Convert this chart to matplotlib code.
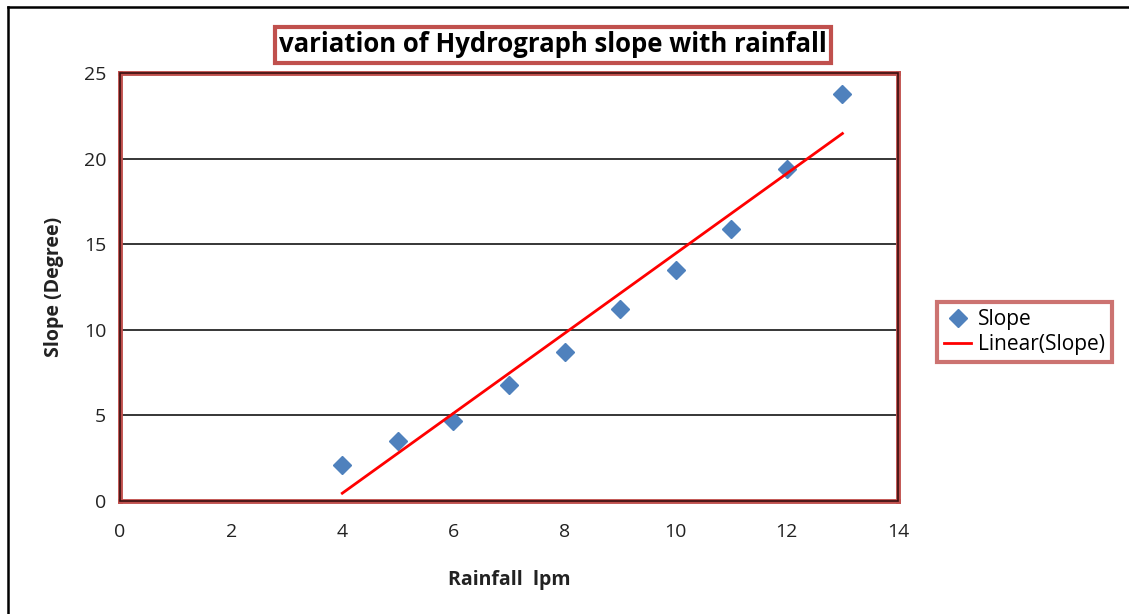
import numpy as np
import matplotlib
matplotlib.use("Agg")
import matplotlib.pyplot as plt
from matplotlib.lines import Line2D
from matplotlib.patches import Rectangle

# Data
rainfall = [4, 5, 6, 7, 8, 9, 10, 11, 12, 13]
slope = [2.1, 3.5, 4.7, 6.8, 8.7, 11.2, 13.5, 15.9, 19.4, 23.8]
x_ticks = [0, 2, 4, 6, 8, 10, 12, 14]
y_ticks = [0, 5, 10, 15, 20, 25]

title = "variation of Hydrograph slope with rainfall"
xlabel = "Rainfall  lpm"
ylabel = "Slope (Degree)"

plt.rcParams['font.family'] = ['Open Sans', 'DejaVu Sans']

fig = plt.figure(figsize=(11.29, 6.14), dpi=100)
W, H = 1129, 614
ax = fig.add_axes([120 / W, 1 - 501 / H, (898 - 120) / W, (501 - 73) / H])

ax.set_xlim(0, 14)
ax.set_ylim(0, 25)
ax.set_xticks(x_ticks)
ax.set_yticks(y_ticks)
ax.tick_params(length=0, labelsize=14, colors='#222222')
ax.tick_params(axis='x', pad=16)
ax.tick_params(axis='y', pad=10)
ax.yaxis.grid(True, color='black', linewidth=1.1)
ax.set_axisbelow(True)

for s in ax.spines.values():
    s.set_color('#c0504d')
    s.set_linewidth(3.5)
ax.add_patch(Rectangle((0, 0), 1, 1, transform=ax.transAxes, fill=False,
                       edgecolor='#3a1010', linewidth=1.2, zorder=5, clip_on=False))

# Data points
ax.plot(rainfall, slope, linestyle='none', marker='D', markersize=9.5,
        color='#4f81bd', label='Slope', zorder=3)

# Linear trend line
coef = np.polyfit(rainfall, slope, 1)
xs = np.array([min(rainfall), max(rainfall)])
ax.plot(xs, np.polyval(coef, xs), color='#ff0000', linewidth=2.0,
        label='Linear(Slope)', zorder=4)

ax.set_xlabel(xlabel, fontsize=14, fontweight='bold', labelpad=21, color='#222222')
ax.set_ylabel(ylabel, fontsize=14, fontweight='bold', labelpad=14, color='#222222')

# Title with box
fig.text(553 / W, 1 - 45 / H, title, ha='center', va='center', fontsize=18.5,
         fontweight='bold', color='black',
         bbox=dict(boxstyle='square,pad=0.16', facecolor='white',
                   edgecolor='#c0504d', linewidth=3))

# Legend
leg = fig.legend(loc='center left', bbox_to_anchor=(937 / W, 1 - 332 / H),
                 fontsize=15, frameon=True, fancybox=False, borderpad=0.35,
                 handlelength=1.3, handletextpad=0.3, labelspacing=0.2,
                 borderaxespad=0)
leg.get_frame().set_edgecolor('#c0504d')
leg.get_frame().set_linewidth(3)

# Outer figure border (left and top visible)
fig.add_artist(Line2D([8 / W, 8 / W], [0, 1 - 7 / H], transform=fig.transFigure,
                      color='black', linewidth=1.8))
fig.add_artist(Line2D([8 / W, 1], [1 - 7 / H, 1 - 7 / H], transform=fig.transFigure,
                      color='black', linewidth=1.8))

fig.savefig('out.png', dpi=100)
